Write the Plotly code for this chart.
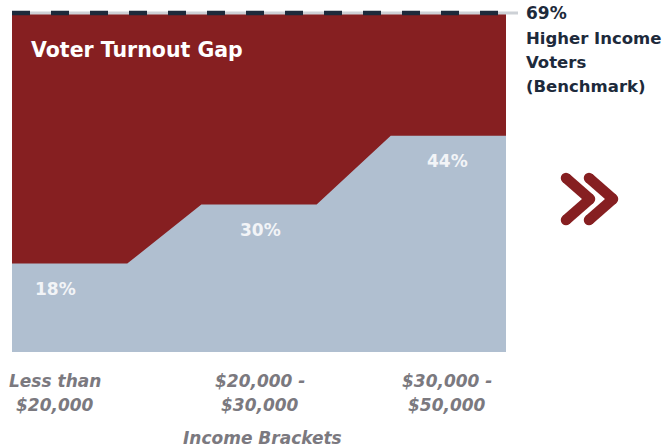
import plotly.graph_objects as go

# ---- data -------------------------------------------------------------
brackets = ["Less than<br>$20,000", "$20,000 -<br>$30,000", "$30,000 -<br>$50,000"]
turnout = [18, 30, 44]            # % turnout per income bracket
benchmark = 69                    # % turnout, higher income voters
benchmark_lines = ["Higher Income", "Voters", "(Benchmark)"]
gap_title = "Voter Turnout Gap"
axis_title = "Income Brackets"

# ---- style ------------------------------------------------------------
RED = "#861f21"
BLUE = "#b0bfd0"
NAVY = "#1d2a3b"
GRAY = "#7b797f"
LIGHT = "#cdd1d6"
FONT = "DejaVu Sans"

W, H = 667, 448
ML, MR, MT, MB = 12, 161, 13, 96
PW, PH = W - ML - MR, H - MT - MB
XMAX = 3.0
YMAX = benchmark


def paper_x(px):
    return (px - ML) / PW


def paper_y(py):
    return (H - MB - py) / PH


def data_x(px):
    return (px - ML) / PW * XMAX


# each bracket has a flat plateau, joined to the next by a ramp
centers = [0.35, 1.5, 2.65]
half = 0.35
xs, ys = [], []
for c, v in zip(centers, turnout):
    xs += [c - half, c + half]
    ys += [v, v]

fig = go.Figure()
# gap region up to the benchmark
fig.add_trace(go.Scatter(x=[0, XMAX], y=[benchmark, benchmark], mode="lines",
                         line=dict(width=0), fill="tozeroy", fillcolor=RED,
                         hoverinfo="skip", showlegend=False))
# turnout per bracket
fig.add_trace(go.Scatter(x=xs, y=ys, mode="lines", line=dict(width=0),
                         fill="tozeroy", fillcolor=BLUE,
                         hoverinfo="skip", showlegend=False))

shapes = []
# benchmark line: pale rule with dark dashes on top (paper refs so it is not clipped)
bench_end = paper_x(518)
bench_y = benchmark / YMAX
shapes.append(dict(type="line", xref="paper", yref="paper", x0=0, x1=bench_end,
                   y0=bench_y, y1=bench_y, line=dict(color=LIGHT, width=3)))
shapes.append(dict(type="line", xref="paper", yref="paper", x0=0, x1=bench_end,
                   y0=bench_y, y1=bench_y,
                   line=dict(color=NAVY, width=4.5, dash="18px,21px")))


# double chevron: two stroked arms with round ends and joint
def chevron(x0, stroke=10.5):
    pts = [(x0, 178), (x0 + 24, 199), (x0, 220)]
    out = []
    for (a1, b1), (a2, b2) in zip(pts[:-1], pts[1:]):
        out.append(dict(type="line", xref="paper", yref="paper",
                        x0=paper_x(a1), y0=paper_y(b1), x1=paper_x(a2), y1=paper_y(b2),
                        line=dict(color=RED, width=stroke)))
    r = stroke / 2
    for a, b in pts:
        out.append(dict(type="circle", xref="paper", yref="paper",
                        x0=paper_x(a - r), x1=paper_x(a + r),
                        y0=paper_y(b + r), y1=paper_y(b - r),
                        fillcolor=RED, line=dict(width=0)))
    return out


shapes += chevron(566) + chevron(589)

annotations = []
# title inside the gap region
annotations.append(dict(text=f"<b>{gap_title}</b>", xref="paper", yref="paper",
                        x=paper_x(29), y=paper_y(50), xanchor="left", yanchor="middle",
                        showarrow=False, font=dict(family=FONT, size=20.5, color="white")))

# benchmark labels
annotations.append(dict(text=f"<b>{benchmark}%</b>", xref="paper", yref="y",
                        x=paper_x(524), y=benchmark, xanchor="left", yanchor="middle",
                        showarrow=False, font=dict(family=FONT, size=17, color=NAVY)))
for i, line in enumerate(benchmark_lines):
    annotations.append(dict(text=f"<b>{line}</b>", xref="paper", yref="paper",
                            x=paper_x(524), y=paper_y(38 + 24 * i),
                            xanchor="left", yanchor="middle", showarrow=False,
                            font=dict(family=FONT, size=16.5, color=NAVY)))

# value labels and bracket labels share the same horizontal centres
label_px = [55, 260, 447]
for lx, v, name in zip(label_px, turnout, brackets):
    annotations.append(dict(text=f"<b>{v}%</b>", x=data_x(lx), y=v, yshift=-25,
                            xanchor="center", yanchor="middle", showarrow=False,
                            font=dict(family=FONT, size=17, color="#f2f4f7")))
    for j, part in enumerate(name.split("<br>")):
        annotations.append(dict(text=f"<b><i>{part}</i></b>", xref="x", yref="paper",
                                x=data_x(lx), y=paper_y(381 + 24 * j),
                                xanchor="center", yanchor="middle", showarrow=False,
                                font=dict(family=FONT, size=17, color=GRAY)))

annotations.append(dict(text=f"<b><i>{axis_title}</i></b>", xref="paper", yref="paper",
                        x=paper_x(262), y=paper_y(438), xanchor="center", yanchor="middle",
                        showarrow=False, font=dict(family=FONT, size=17, color=GRAY)))

fig.update_layout(
    width=W, height=H,
    margin=dict(l=ML, r=MR, t=MT, b=MB),
    paper_bgcolor="white", plot_bgcolor="white",
    xaxis=dict(range=[0, XMAX], visible=False, fixedrange=True),
    yaxis=dict(range=[0, YMAX], visible=False, fixedrange=True),
    shapes=shapes, annotations=annotations,
    showlegend=False,
)

fig.write_html("out.html")
